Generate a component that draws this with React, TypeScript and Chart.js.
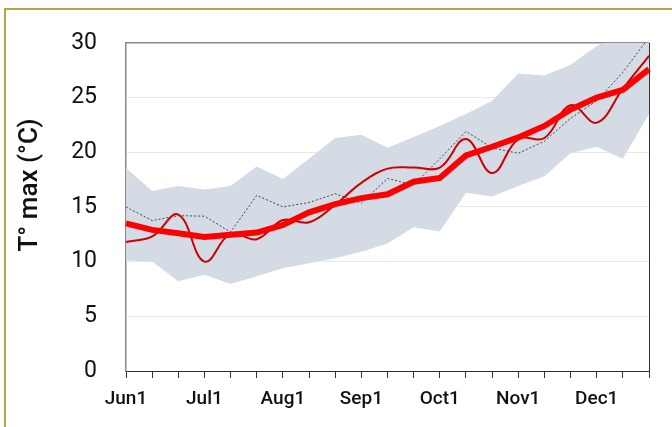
import React, { useEffect, useRef } from "react";
import { Chart, registerables } from "chart.js";

Chart.register(...registerables);

// Dekad (10-day) periods from June to December
const dekadLabels = [
  "Jun1", "Jun11", "Jun21",
  "Jul1", "Jul11", "Jul21",
  "Aug1", "Aug11", "Aug21",
  "Sep1", "Sep11", "Sep21",
  "Oct1", "Oct11", "Oct21",
  "Nov1", "Nov11", "Nov21",
  "Dec1", "Dec11", "Dec21",
];
const shownTickLabels = ["Jun1", "Jul1", "Aug1", "Sep1", "Oct1", "Nov1", "Dec1"];
const yTicks = [0, 5, 10, 15, 20, 25, 30];

// Long-term mean (thick red)
const meanSeries = [13.5, 12.9, 12.6, 12.25, 12.45, 12.65, 13.35, 14.5, 15.25, 15.8, 16.15, 17.3, 17.65, 19.7, 20.5, 21.35, 22.4, 23.9, 25.0, 25.7, 27.6];
// Current season (thin red, smoothed)
const currentSeries = [11.8, 12.3, 14.3, 10.0, 12.55, 12.05, 13.8, 13.6, 15.2, 17.2, 18.5, 18.6, 18.6, 21.2, 18.1, 21.2, 21.3, 24.3, 22.7, 25.8, 28.8];
// Previous season (dotted black)
const previousSeries = [15.0, 13.75, 14.2, 14.15, 12.7, 16.05, 15.0, 15.4, 16.2, 15.35, 17.6, 17.0, 19.4, 21.9, 20.4, 19.9, 21.0, 23.1, 24.7, 27.3, 30.5];
// Range of historical values (grey band)
const upperBand = [18.55, 16.45, 16.9, 16.6, 16.9, 18.7, 17.55, 19.4, 21.3, 21.6, 20.4, 21.4, 22.4, 23.5, 24.7, 27.2, 27.0, 28.0, 29.7, 30.8, 32.0];
const lowerBand = [10.1, 10.0, 8.2, 8.8, 7.95, 8.65, 9.4, 9.85, 10.3, 10.9, 11.65, 13.15, 12.75, 16.3, 15.95, 16.9, 17.8, 19.9, 20.5, 19.4, 23.5];

const yTitle = "T° max (°C)";

const framePlugin = {
  id: "frameLines",
  beforeDatasetsDraw(chart: any) {
    const { ctx, chartArea } = chart;
    ctx.save();
    ctx.strokeStyle = "#8a8a8a";
    ctx.lineWidth = 1.5;
    ctx.beginPath();
    ctx.moveTo(chartArea.left, chartArea.top);
    ctx.lineTo(chartArea.right, chartArea.top);
    ctx.stroke();
    ctx.strokeStyle = "#333333";
    ctx.lineWidth = 1;
    ctx.beginPath();
    ctx.moveTo(chartArea.right + 0.5, chartArea.top);
    ctx.lineTo(chartArea.right + 0.5, chartArea.bottom);
    ctx.stroke();
    ctx.restore();
  },
};

const titlePlugin = {
  id: "yTitle",
  afterDraw(chart: any) {
    const { ctx, chartArea } = chart;
    const cy = chartArea.top + (chartArea.bottom - chartArea.top) * 0.433;
    ctx.save();
    ctx.font = "500 26px Roboto";
    ctx.fillStyle = "#111111";
    ctx.textAlign = "center";
    ctx.textBaseline = "middle";
    ctx.translate(30, cy);
    ctx.rotate(-Math.PI / 2);
    ctx.fillText(yTitle, 0, 0);
    ctx.restore();
  },
};

export default function App() {
  const ref = useRef<HTMLCanvasElement>(null);

  useEffect(() => {
    if (!ref.current) return;
    const chart = new Chart(ref.current, {
      type: "line",
      data: {
        labels: dekadLabels,
        datasets: [
          {
            label: "mean",
            data: meanSeries,
            borderColor: "#ff0000",
            borderWidth: 6,
            pointRadius: 0,
            tension: 0,
            fill: false,
            order: 0,
          },
          {
            label: "current",
            data: currentSeries,
            borderColor: "#cc0000",
            borderWidth: 2,
            pointRadius: 0,
            tension: 0.4,
            fill: false,
            order: 1,
          },
          {
            label: "previous",
            data: previousSeries,
            borderColor: "#444444",
            borderWidth: 1,
            borderDash: [2, 2],
            pointRadius: 0,
            tension: 0,
            fill: false,
            order: 2,
          },
          {
            label: "max",
            data: upperBand,
            borderColor: "rgba(0,0,0,0)",
            borderWidth: 1,
            backgroundColor: "#d5dbe5",
            pointRadius: 0,
            tension: 0,
            fill: "+1",
            order: 3,
          },
          {
            label: "min",
            data: lowerBand,
            borderColor: "rgba(0,0,0,0)",
            borderWidth: 1,
            pointRadius: 0,
            tension: 0,
            fill: false,
            order: 4,
          },
        ],
      },
      options: {
        animation: false,
        responsive: false,
        layout: { padding: { top: 38, right: 23, left: 0, bottom: 0 } },
        plugins: {
          legend: { display: false },
          tooltip: { enabled: false },
        },
        scales: {
          x: {
            offset: false,
            grid: {
              drawOnChartArea: false,
              drawTicks: true,
              tickLength: 7,
              color: "#333333",
            },
            border: { color: "#333333", width: 1 },
            ticks: {
              autoSkip: false,
              maxRotation: 0,
              padding: 10,
              color: "#111111",
              font: { family: "'Liberation Sans Narrow', Roboto", size: 19, weight: "500" },
              callback: (_v: any, i: number) =>
                shownTickLabels.includes(dekadLabels[i]) ? dekadLabels[i] : "",
            },
            afterFit: (s: any) => {
              s.height = 56;
            },
          },
          y: {
            min: yTicks[0],
            max: yTicks[yTicks.length - 1],
            afterBuildTicks: (s: any) => {
              s.ticks = yTicks.map((v) => ({ value: v }));
            },
            grid: { color: "#e8e8e8", drawTicks: false },
            border: { color: "#8a8a8a", width: 1.5 },
            ticks: {
              padding: 29,
              color: "#111111",
              font: { family: "Roboto", size: 23 },
            },
            afterFit: (s: any) => {
              s.width = 126;
            },
          },
        },
      },
      plugins: [framePlugin, titlePlugin],
    });
    return () => chart.destroy();
  }, []);

  return (
    <div
      style={{
        position: "absolute",
        left: 0,
        top: 0,
        width: 672,
        height: 427,
        overflow: "hidden",
        background: "#ffffff",
      }}
    >
      <div
        style={{
          position: "absolute",
          left: 4,
          top: 8,
          width: 720,
          height: 460,
          border: "2px solid #b0aa42",
          boxSizing: "border-box",
        }}
      />
      <canvas
        ref={ref}
        width={672}
        height={427}
        style={{ position: "absolute", left: 0, top: 0, width: 672, height: 427 }}
      />
    </div>
  );
}
